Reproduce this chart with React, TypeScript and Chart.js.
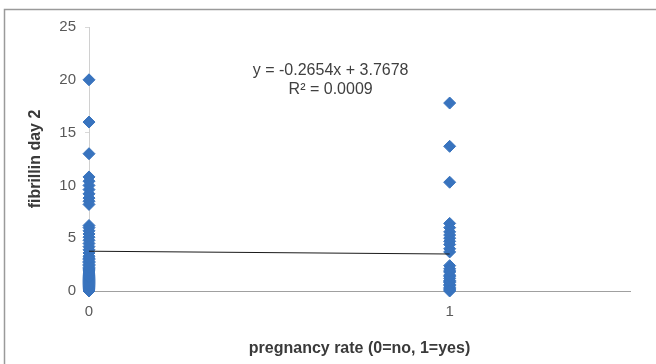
import React, { useEffect, useRef } from 'react';
import { Chart, registerables } from 'chart.js';

Chart.register(...registerables);

// ---- data ----
const pregnancyCodes = [0, 1];
const fibrillinNoPregnancy = [
  20, 16, 13, 10.8, 10.4, 10.0, 9.6, 9.2, 8.8, 8.5, 8.2,
  6.2, 6.0, 5.7, 5.4, 5.1, 4.8, 4.5, 4.2, 3.9, 3.6, 3.3, 3.0, 2.7, 2.4, 2.1,
  1.8, 1.5, 1.2, 0.9, 0.6, 0.3, 0, 0.1, 0.2, 0.4, 0.5, 0.7, 0.8, 1.0, 1.1,
  1.3, 1.4, 1.6, 1.7, 1.9, 2.0, 2.2, 2.5, 2.8, 3.1,
];
const fibrillinPregnancy = [
  17.8, 13.7, 10.3, 6.4, 6.0, 5.6, 5.3, 5.0, 4.7, 4.4, 4.0, 3.7,
  2.4, 2.1, 1.8, 1.5, 1.2, 0.9, 0.6, 0.3, 0.1, 0.2, 0.5, 0.8, 1.0, 1.4, 1.9, 0,
];
const trendSlope = -0.2654;
const trendIntercept = 3.7678;
const rSquared = 0.0009;
const xAxisMax = 1.5;
const yTicks = [0, 5, 10, 15, 20, 25];
const equationAnchor = { x: 0.67, y: 20.9 };

const FONT = "'Liberation Sans', Arial, sans-serif";

export default function App() {
  const ref = useRef<HTMLCanvasElement | null>(null);

  useEffect(() => {
    document.body.style.margin = '0';
    const canvas = ref.current;
    if (!canvas) return;

    const points = [
      ...fibrillinNoPregnancy.map((v) => ({ x: pregnancyCodes[0], y: v })),
      ...fibrillinPregnancy.map((v) => ({ x: pregnancyCodes[1], y: v })),
    ];
    const trend = pregnancyCodes.map((x) => ({ x, y: trendIntercept + trendSlope * x }));

    const framePlugin = {
      id: 'frame',
      beforeDraw(chart: any) {
        const ctx = chart.ctx;
        ctx.save();
        ctx.fillStyle = '#ffffff';
        ctx.fillRect(0, 0, chart.width, chart.height);
        ctx.strokeStyle = '#9a9a9a';
        ctx.lineWidth = 1.5;
        ctx.strokeRect(4.5, 9.5, chart.width + 20, chart.height + 20);
        ctx.restore();
      },
    };

    const equationPlugin = {
      id: 'equation',
      afterDatasetsDraw(chart: any) {
        const ctx = chart.ctx;
        const xs = chart.scales.x;
        const ys = chart.scales.y;
        const cx = xs.getPixelForValue(equationAnchor.x);
        const cy = ys.getPixelForValue(equationAnchor.y);
        ctx.save();
        ctx.fillStyle = '#404040';
        ctx.font = `16px ${FONT}`;
        ctx.textAlign = 'center';
        ctx.textBaseline = 'middle';
        const sign = trendIntercept >= 0 ? '+' : '-';
        ctx.fillText(
          `y = ${trendSlope.toFixed(4)}x ${sign} ${Math.abs(trendIntercept).toFixed(4)}`,
          cx,
          cy
        );
        ctx.fillText(`R\u00B2 = ${rSquared.toFixed(4)}`, cx, cy + 19);
        ctx.restore();
      },
    };

    const chart = new Chart(canvas, {
      type: 'scatter',
      data: {
        datasets: [
          {
            type: 'line',
            label: 'Linear trend',
            data: trend,
            borderColor: '#1a1a1a',
            borderWidth: 1,
            pointRadius: 0,
            fill: false,
            clip: false as any,
          } as any,
          {
            label: 'fibrillin day 2',
            data: points,
            backgroundColor: '#3873be',
            borderColor: '#3873be',
            borderWidth: 1,
            pointStyle: 'rectRot',
            pointRadius: 6,
            clip: false as any,
          },
        ],
      },
      options: {
        animation: false,
        responsive: false,
        devicePixelRatio: 1,
        layout: { padding: { top: 27, right: 26, left: 0, bottom: 0 } },
        plugins: {
          legend: { display: false },
          tooltip: { enabled: false },
        },
        scales: {
          x: {
            type: 'linear',
            min: 0,
            max: xAxisMax,
            afterFit: (s: any) => {
              s.height = 73;
            },
            ticks: {
              stepSize: 1,
              includeBounds: false,
              padding: 12,
              color: '#595959',
              font: { family: FONT, size: 15 },
            },
            grid: { display: true, drawOnChartArea: false, drawTicks: false },
            border: { color: '#a0a0a0', width: 1 },
            title: {
              display: true,
              text: 'pregnancy rate (0=no, 1=yes)',
              color: '#3a3a3a',
              font: { family: FONT, size: 16, weight: 'bold' },
              padding: { top: 0, bottom: 6 },
            },
          },
          y: {
            type: 'linear',
            min: yTicks[0],
            max: yTicks[yTicks.length - 1],
            afterFit: (s: any) => {
              s.width = 89;
            },
            ticks: {
              stepSize: 5,
              padding: 9,
              color: '#595959',
              font: { family: FONT, size: 15 },
            },
            grid: {
              display: true,
              drawOnChartArea: false,
              drawTicks: true,
              tickLength: 4,
              color: '#d9d9d9',
            },
            border: { color: '#d0d0d0', width: 1 },
            title: {
              display: true,
              text: 'fibrillin day 2',
              color: '#3a3a3a',
              font: { family: FONT, size: 16, weight: 'bold' },
              padding: { top: 26, bottom: 0 },
            },
          },
        },
      },
      plugins: [framePlugin, equationPlugin],
    });

    return () => chart.destroy();
  }, []);

  return (
    <div style={{ width: 656, height: 364, position: 'relative' }}>
      <canvas ref={ref} width={656} height={364} style={{ display: 'block' }} />
    </div>
  );
}
